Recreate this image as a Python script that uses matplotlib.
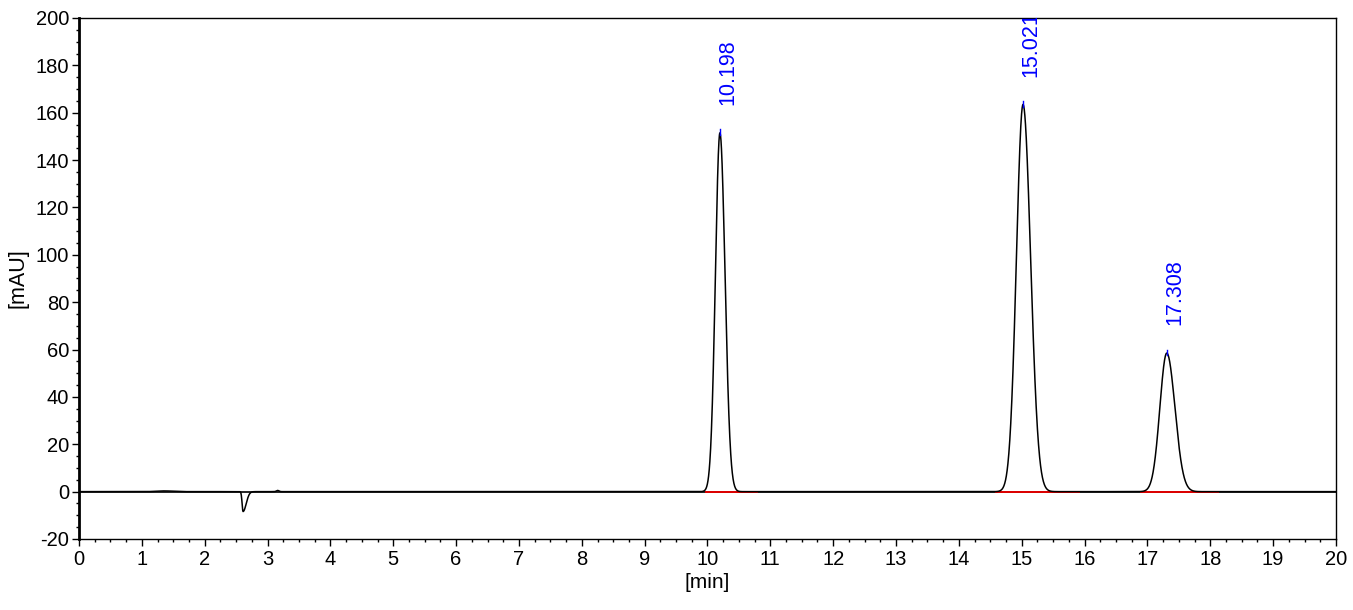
import numpy as np
import matplotlib
matplotlib.use("Agg")
import matplotlib.pyplot as plt
from matplotlib.ticker import MultipleLocator

# Peak parameters
peak_times = [10.198, 15.021, 17.308]
peak_heights = [151.5, 163.5, 58.5]
peak_sigma_left = [0.072, 0.105, 0.11]
peak_sigma_right = [0.081, 0.12, 0.13]
peak_labels = ["10.198", "15.021", "17.308"]

# Integration baselines (start, end) in min
baseline_starts = [9.96, 14.57, 16.88]
baseline_ends = [10.80, 15.93, 18.14]

# Small system features (injection dip, bumps)
minor_times = [2.61, 3.16, 1.36]
minor_heights = [-8.4, 0.5, 0.3]
minor_sigma_left = [0.015, 0.02, 0.12]
minor_sigma_right = [0.05, 0.02, 0.12]

x_ticks = list(range(0, 21))
y_ticks = list(range(-20, 201, 20))


def asym_peak(t, t0, h, sl, sr):
    s = np.where(t < t0, sl, sr)
    return h * np.exp(-0.5 * ((t - t0) / s) ** 2)


t = np.linspace(0, 20, 8001)
signal = np.zeros_like(t)
for t0, h, sl, sr in zip(peak_times, peak_heights, peak_sigma_left, peak_sigma_right):
    signal += asym_peak(t, t0, h, sl, sr)
for t0, h, sl, sr in zip(minor_times, minor_heights, minor_sigma_left, minor_sigma_right):
    signal += asym_peak(t, t0, h, sl, sr)

plt.rcParams['font.family'] = ['Liberation Sans', 'DejaVu Sans']
plt.rcParams['axes.unicode_minus'] = False

fig = plt.figure(figsize=(13.53, 6.10), dpi=100)
ax = fig.add_axes([0.0584, 0.1164, 0.9290, 0.8541])

ax.axhline(0, color='black', lw=1.2, zorder=1)
for s, e in zip(baseline_starts, baseline_ends):
    ax.plot([s, e], [0, 0], color='#e00000', lw=1.4, zorder=2, solid_capstyle='butt')
ax.plot(t, signal, color='black', lw=1.1, zorder=3)

for t0, h, lab in zip(peak_times, peak_heights, peak_labels):
    ax.plot([t0, t0], [h - 1.0, h + 1.5], color='blue', lw=1.0, zorder=4)
    ann = ax.annotate(lab, xy=(t0, h), xytext=(6, 20), textcoords='offset points',
                      rotation=90, ha='center', va='bottom', color='blue',
                      fontsize=15.5, annotation_clip=False)
    ann.set_clip_on(True)
    ann.set_clip_path(ax.patch)

ax.set_xlim(0, 20)
ax.set_ylim(-20, 200)
ax.set_xticks(x_ticks)
ax.set_yticks(y_ticks)
ax.xaxis.set_minor_locator(MultipleLocator(0.25))
ax.yaxis.set_minor_locator(MultipleLocator(5))
ax.tick_params(axis='both', which='major', direction='out', length=5, width=1,
               labelsize=14.5, pad=3)
ax.tick_params(axis='both', which='minor', direction='out', length=2.5, width=1)
ax.tick_params(axis='y', pad=2)

for side in ['top', 'right', 'bottom']:
    ax.spines[side].set_linewidth(1.0)
ax.spines['left'].set_linewidth(2.0)

ax.set_xlabel('[min]', fontsize=15, labelpad=3)
ax.set_ylabel('[mAU]', fontsize=15.5, labelpad=5)

fig.savefig('out.png', dpi=100)
